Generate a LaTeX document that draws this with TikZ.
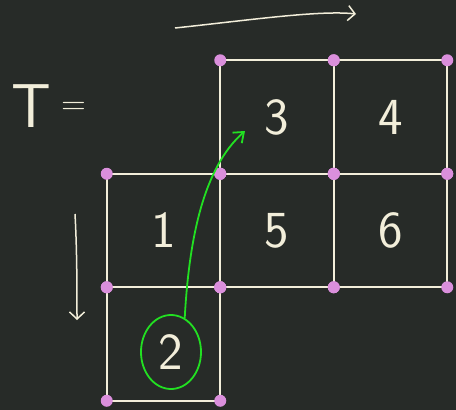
\documentclass[tikz,border=0pt]{standalone}
\usepackage{xcolor}
\usepackage{tikz}
\usetikzlibrary{shapes,arrows.meta,positioning,calc}

\definecolor{board}{HTML}{272B28}
\definecolor{chalk}{HTML}{F2EEDA}
\definecolor{dotpink}{HTML}{DA8FDC}
\definecolor{marker}{HTML}{22E022}

\begin{document}
\begin{tikzpicture}[
    x=1pt, y=-1pt,
    node distance=0pt,
    cell/.style={rectangle, draw=chalk, line width=2.2pt, minimum size=113.5pt,
        inner sep=0pt, outer sep=0pt, text=chalk, font=\sffamily\fontsize{52}{52}\selectfont},
    scrawl/.style={text=chalk, inner sep=0pt, font=\sffamily\fontsize{62}{62}\selectfont},
    ring/.style={ellipse, draw=marker, line width=1.8pt, minimum width=60pt,
        minimum height=74pt, inner sep=0pt, text=chalk, font=\sffamily\fontsize{52}{52}\selectfont},
    hand/.style={-{Straight Barb[length=7pt,width=15pt]}, line width=1.5pt, color=chalk},
    edge/.style={-{Straight Barb[length=9pt,width=14pt]}, line width=1.8pt, color=marker}
]
    \fill[board] (0,0) rectangle (456,410);
    \useasboundingbox (0,0) rectangle (456,410);

    % the six cells
    \node[cell] (cell3) at (277,117) {3};
    \node[cell, right=of cell3] (cell4) {4};
    \node[cell, below=of cell3] (cell5) {5};
    \node[cell, below=of cell4] (cell6) {6};
    \node[cell, left=of cell5] (cell1) {1};
    \node[cell, below=of cell1] (cell2) {};

    % corner dots
    \foreach \c in {cell1,cell2,cell3,cell4,cell5,cell6}
        \foreach \a in {north west,north east,south west,south east}
            \fill[dotpink] (\c.\a) circle (6pt);

    \node[scrawl] (tee) at (31,106) {T};
    \node[scrawl, font=\sffamily\fontsize{34}{34}\selectfont] (eq) at (74,108) {=};

    % reading order arrows
    \coordinate (rowstart) at (175,28);
    \coordinate (rowend) at (356,14);
    \draw[hand] (rowstart) .. controls (250,20) and (320,10) .. (rowend);
    \coordinate (colstart) at (75,214);
    \coordinate (colend) at (77,320);
    \draw[hand] (colstart) .. controls (77,250) and (77,290) .. (colend);

    \node[ring] (two) at (171,352) {2};
    \coordinate (tip3) at (245,131);
    \draw[edge] (two.68) .. controls (189,240) and (203,168) .. (tip3);
\end{tikzpicture}
\end{document}
